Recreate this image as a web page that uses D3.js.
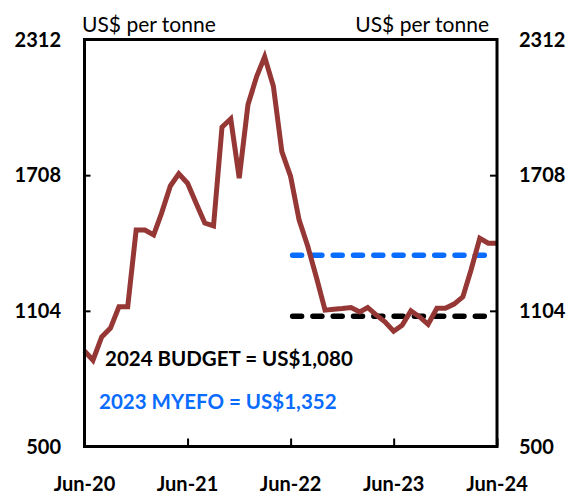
<!DOCTYPE html>
<html>
<head>
<meta charset="utf-8">
<script src="https://cdn.jsdelivr.net/npm/d3@7"></script>
<style>
  body { margin: 0; background: #fff; }
  text { font-family: Lato, "Open Sans", sans-serif; }
</style>
</head>
<body>
<div id="chart"></div>
<script>
// monthly prices, Jun-20 .. Jun-24 (US$ per tonne)
const startMonth = "2020-06";
const prices = [
  925, 884, 988, 1027, 1122, 1122, 1464, 1464, 1442, 1539, 1660, 1714,
  1672, 1584, 1495, 1482, 1922, 1959, 1695, 2022, 2148, 2235, 2104, 1813,
  1702, 1509, 1390, 1250, 1107, 1111, 1114, 1119, 1099, 1119, 1085, 1055,
  1013, 1040, 1104, 1077, 1044, 1115, 1115, 1134, 1166, 1286, 1427, 1405,
  1405
];
const yTicks = [500, 1104, 1708, 2312];
const xTickLabels = ["Jun-20", "Jun-21", "Jun-22", "Jun-23", "Jun-24"];
const budget = { label: "2024 BUDGET = US$1,080", value: 1080, from: "2022-06", color: "#000000" };
const myefo = { label: "2023 MYEFO = US$1,352", value: 1352, from: "2022-06", color: "#0a6cff" };

const width = 568;
const height = 495;
const margin = { top: 39.5, right: 71, bottom: 48.5, left: 84.5 };

const svg = d3.select("#chart")
  .append("svg")
  .attr("width", width)
  .attr("height", height);

const parseMonth = d3.timeParse("%Y-%m");
const start = parseMonth(startMonth);
const data = prices.map((v, i) => ({ date: d3.timeMonth.offset(start, i), value: v }));

const x = d3.scaleTime()
  .domain(d3.extent(data, (d) => d.date))
  .range([margin.left, width - margin.right]);

const y = d3.scaleLinear()
  .domain([500, 2312])
  .range([height - margin.bottom, margin.top]);

const xTickDates = xTickLabels.map((d, i) => d3.timeYear.offset(start, i));

// reference lines
[myefo, budget].forEach((ref) => {
  svg.append("line")
    .attr("x1", x(parseMonth(ref.from)) + 2)
    .attr("x2", x.range()[1] - 2)
    .attr("y1", y(ref.value))
    .attr("y2", y(ref.value))
    .attr("stroke", ref.color)
    .attr("stroke-width", 5.5)
    .attr("stroke-linecap", "round")
    .attr("stroke-dasharray", "9,11.3");
});

// price line
svg.append("path")
  .datum(data)
  .attr("fill", "none")
  .attr("stroke", "#953735")
  .attr("stroke-width", 5)
  .attr("stroke-linejoin", "miter")
  .attr("d", d3.line().x((d) => x(d.date)).y((d) => y(d.value)));

// axes
const yLeft = svg.append("g")
  .attr("transform", "translate(" + margin.left + ",0)")
  .call(d3.axisRight(y).tickValues(yTicks).tickSize(6).tickFormat(""));
const yRight = svg.append("g")
  .attr("transform", "translate(" + (width - margin.right) + ",0)")
  .call(d3.axisLeft(y).tickValues(yTicks).tickSize(7).tickFormat(""));
const xAxis = svg.append("g")
  .attr("transform", "translate(0," + (height - margin.bottom) + ")")
  .call(d3.axisTop(x).tickValues(xTickDates).tickSize(8).tickFormat(""));
[yLeft, yRight, xAxis].forEach((g) => {
  g.select(".domain").remove();
  g.selectAll("line").attr("stroke", "#000").attr("stroke-width", 2);
});

// frame
svg.append("rect")
  .attr("x", margin.left)
  .attr("y", margin.top)
  .attr("width", width - margin.left - margin.right)
  .attr("height", height - margin.top - margin.bottom)
  .attr("fill", "none")
  .attr("stroke", "#000")
  .attr("stroke-width", 3);

// tick labels
svg.selectAll(".ylab-left")
  .data(yTicks)
  .enter()
  .append("text")
  .attr("x", 61)
  .attr("y", (d) => y(d))
  .attr("dy", "0.35em")
  .attr("text-anchor", "end")
  .style("font-size", "20px")
  .style("font-weight", "bold")
  .text((d) => d);
svg.selectAll(".ylab-right")
  .data(yTicks)
  .enter()
  .append("text")
  .attr("x", 519)
  .attr("y", (d) => y(d))
  .attr("dy", "0.35em")
  .attr("text-anchor", "start")
  .style("font-size", "20px")
  .style("font-weight", "bold")
  .text((d) => d);
svg.selectAll(".xlab")
  .data(xTickDates)
  .enter()
  .append("text")
  .attr("x", (d) => x(d))
  .attr("y", 491)
  .attr("text-anchor", "middle")
  .style("font-size", "20px")
  .style("font-weight", "bold")
  .text((d, i) => xTickLabels[i]);

// unit labels
svg.append("text")
  .attr("x", 82)
  .attr("y", 32)
  .style("font-size", "21px")
  .text("US$ per tonne");
svg.append("text")
  .attr("x", 489)
  .attr("y", 32)
  .attr("text-anchor", "end")
  .style("font-size", "21px")
  .text("US$ per tonne");

// annotations
svg.append("text")
  .attr("x", 105)
  .attr("y", 366)
  .style("font-size", "20.5px")
  .style("font-weight", "bold")
  .attr("fill", budget.color)
  .text(budget.label);
svg.append("text")
  .attr("x", 99)
  .attr("y", 409)
  .style("font-size", "20.5px")
  .style("font-weight", "bold")
  .attr("fill", myefo.color)
  .text(myefo.label);
</script>
</body>
</html>
